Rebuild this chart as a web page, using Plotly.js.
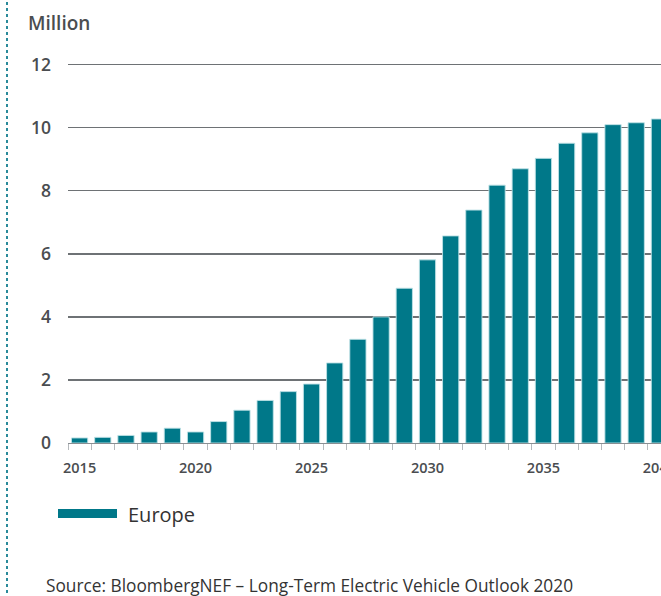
<!DOCTYPE html>
<html>
<head>
<meta charset="utf-8">
<script src="https://cdn.plot.ly/plotly-3.0.1.min.js"></script>
<style>
html, body { margin: 0; padding: 0; overflow: hidden; background: #fff; }
#chart { width: 700px; height: 596px; }
</style>
</head>
<body>
<div id="chart"></div>
<script>
// Data
const years = [2015, 2016, 2017, 2018, 2019, 2020, 2021, 2022, 2023, 2024, 2025, 2026, 2027,
               2028, 2029, 2030, 2031, 2032, 2033, 2034, 2035, 2036, 2037, 2038, 2039, 2040];
const europe = [0.16, 0.18, 0.24, 0.35, 0.47, 0.35, 0.68, 1.04, 1.35, 1.63, 1.87, 2.54, 3.29,
                4.00, 4.91, 5.81, 6.57, 7.39, 8.18, 8.70, 9.03, 9.51, 9.84, 10.10, 10.16, 10.28];
const xTickVals = [2015, 2020, 2025, 2030, 2035, 2040];
const yTickVals = [0, 2, 4, 6, 8, 10, 12];
const seriesName = 'Europe';
const unitLabel = 'Million';
const sourceText = 'Source: BloombergNEF \u2013 Long-Term Electric Vehicle Outlook 2020';

// Layout geometry (pixels)
const W = 700, H = 596;
const M = { l: 68, r: 29, t: 49, b: 153 };
const PW = W - M.l - M.r, PH = H - M.t - M.b;
const px = x => (x - M.l) / PW;
const py = y => (H - M.b - y) / PH;

const teal = '#007889';
const FONT = '"Open Sans", "DejaVu Sans", sans-serif';

const trace = {
  type: 'bar',
  x: years,
  y: europe,
  name: seriesName,
  width: 0.7,
  marker: { color: teal, line: { color: 'rgba(190,225,230,0.9)', width: 1 } },
  showlegend: false,
  hoverinfo: 'x+y'
};

const layout = {
  width: W,
  height: H,
  margin: M,
  paper_bgcolor: '#fff',
  plot_bgcolor: '#fff',
  font: { family: FONT, color: '#4a4d50' },
  bargap: 0.3,
  xaxis: {
    range: [2014.5, 2040.5],
    tickvals: xTickVals,
    ticktext: xTickVals.map(String),
    ticks: '',
    ticklabelstandoff: 11,
    tickfont: { size: 14.5, family: FONT, weight: 600, color: '#4a4d50' },
    showgrid: false,
    zeroline: false,
    showline: true,
    linecolor: '#8a8f93',
    linewidth: 1.3,
    minor: { ticks: 'outside', tick0: 2014.5, dtick: 1, ticklen: 6, tickcolor: '#b5b9bc', tickwidth: 1, showgrid: false }
  },
  yaxis: {
    range: [0, 12.5],
    tickvals: yTickVals,
    ticks: '',
    ticklabelstandoff: 16,
    tickfont: { size: 17.5, family: FONT, weight: 600, color: '#4a4d50' },
    showgrid: true,
    gridcolor: '#6e7275',
    gridwidth: 1.3,
    zeroline: false,
    showline: false
  },
  shapes: [
    // dotted frame line at left
    { type: 'line', xref: 'paper', yref: 'paper', x0: px(7), x1: px(7), y0: py(2), y1: py(594),
      line: { color: '#2a8a9a', width: 2, dash: 'dot' } },
    // legend swatch
    { type: 'rect', xref: 'paper', yref: 'paper', x0: px(58), x1: px(117), y0: py(509), y1: py(518),
      fillcolor: teal, line: { width: 0 } }
  ],
  annotations: [
    { text: unitLabel, xref: 'paper', yref: 'paper', x: px(26), y: py(23), xanchor: 'left', yanchor: 'middle',
      showarrow: false, font: { size: 19, family: FONT, weight: 600, color: '#4a4d50' } },
    { text: seriesName, xref: 'paper', yref: 'paper', x: px(126), y: py(514), xanchor: 'left', yanchor: 'middle',
      showarrow: false, font: { size: 20, family: FONT, color: '#333' } },
    { text: sourceText, xref: 'paper', yref: 'paper', x: px(44), y: py(585), xanchor: 'left', yanchor: 'middle',
      showarrow: false, font: { size: 17.3, family: FONT, color: '#333' } }
  ]
};

Plotly.newPlot('chart', [trace], layout, { displayModeBar: false, staticPlot: true });
</script>
</body>
</html>
